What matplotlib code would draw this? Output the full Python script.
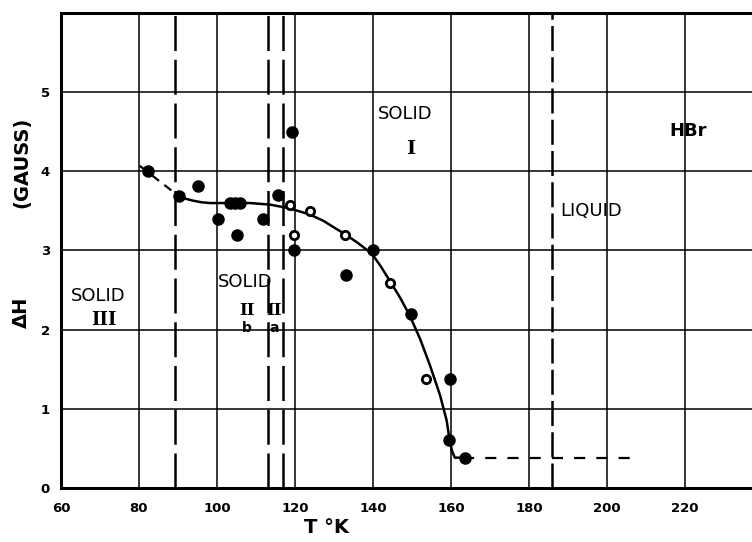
import matplotlib.pyplot as plt

# filled points (T in K, delta H in gauss)
solid_T = [82.3, 90.3, 95.1, 100.3, 103.3, 104.5, 105.8, 105.1, 111.8, 115.6,
           119.2, 119.7, 133.1, 140.0, 149.7, 159.7, 159.5, 163.6]
solid_H = [4.00, 3.69, 3.81, 3.40, 3.60, 3.60, 3.60, 3.19, 3.40, 3.70,
           4.50, 3.00, 2.69, 3.00, 2.20, 1.38, 0.60, 0.38]

# open (dotted) points
open_T = [118.7, 119.7, 123.8, 132.8, 144.4, 153.6]
open_H = [3.57, 3.20, 3.50, 3.20, 2.59, 1.38]

# smooth curve
curve_T = [89.6, 91.5, 93.9, 96.0, 98.2, 103.3, 108.5, 113.6, 117.9, 120.8,
           123.8, 127.3, 130.7, 132.4, 136.0, 139.7, 142.0, 144.4, 147.0,
           149.5, 152.1, 154.6, 157.2, 158.9, 159.6, 160.3, 161.0, 163.2]
curve_H = [3.71, 3.66, 3.63, 3.61, 3.60, 3.60, 3.60, 3.58, 3.54, 3.50,
           3.455, 3.375, 3.27, 3.22, 3.10, 2.96, 2.80, 2.61, 2.40,
           2.17, 1.88, 1.55, 1.17, 0.85, 0.62, 0.46, 0.38, 0.38]

# dashed extensions
low_T = [80.2, 89.6]
low_H = [4.07, 3.71]
high_T = [163.2, 208.0]
high_H = [0.38, 0.38]

# phase transitions
trans_T = [89.3, 113.0, 117.0]
melt_T = 186.0

x_ticks = [60, 80, 100, 120, 140, 160, 180, 200, 220]
y_ticks = [0, 1, 2, 3, 4, 5]


def do_plot():
    fig = plt.figure(figsize=(7.52, 5.42), dpi=100)
    ax = fig.add_axes([0.0811, 0.1002, 0.9189, 0.8753])
    ax.set_xlim(60, 237.2)
    ax.set_ylim(0, 6)

    for t in x_ticks[1:]:
        ax.axvline(t, color='black', lw=1.1, zorder=1)
    for h in y_ticks[1:]:
        ax.axhline(h, color='black', lw=1.1, zorder=1)

    for t in trans_T:
        ax.axvline(t, color='black', lw=1.8, dashes=(14, 3.5), zorder=2)
    ax.axvline(melt_T, color='black', lw=1.8, dashes=(10, 2.5), zorder=2)

    ax.plot(curve_T, curve_H, '-', color='black', lw=1.8, zorder=3,
            solid_joinstyle='round')
    ax.plot(low_T, low_H, color='black', lw=1.6, dashes=(4, 3), zorder=3)
    ax.plot(high_T, high_H, color='black', lw=1.6, dashes=(5, 5), zorder=3)

    ax.plot(solid_T, solid_H, 'o', color='black', markersize=8, zorder=4)
    ax.plot(open_T, open_H, 'o', mfc='white', mec='black', mew=2,
            markersize=6, zorder=4)

    ax.set_xticks(x_ticks)
    ax.set_yticks(y_ticks)
    ax.tick_params(length=0, labelsize=9.5)
    ax.tick_params(axis='x', pad=10)
    ax.tick_params(axis='y', pad=8)
    for lab in ax.get_xticklabels() + ax.get_yticklabels():
        lab.set_fontweight('bold')

    for side in ['left', 'bottom', 'top']:
        ax.spines[side].set_linewidth(2.2)
    ax.spines['right'].set_visible(False)

    ax.text(148.2, 4.72, 'SOLID', fontsize=13, ha='center', va='center')
    ax.text(149.7, 4.28, 'I', fontsize=14, ha='center', va='center',
            family='DejaVu Serif', fontweight='bold')
    ax.text(220.8, 4.51, 'HBr', fontsize=13, fontweight='bold',
            ha='center', va='center')
    ax.text(188.0, 3.50, 'LIQUID', fontsize=13, ha='left', va='center')
    ax.text(69.5, 2.43, 'SOLID', fontsize=13, ha='center', va='center')
    ax.text(71.0, 2.12, 'III', fontsize=13, ha='center', va='center',
            family='DejaVu Serif', fontweight='bold')
    ax.text(107.2, 2.60, 'SOLID', fontsize=13, ha='center', va='center')
    ax.text(107.7, 2.24, 'II', fontsize=12, ha='center', va='center',
            family='DejaVu Serif', fontweight='bold')
    ax.text(107.7, 2.02, 'b', fontsize=10, ha='center', va='center',
            fontweight='bold')
    ax.text(114.6, 2.24, 'II', fontsize=12, ha='center', va='center',
            family='DejaVu Serif', fontweight='bold')
    ax.text(114.6, 2.02, 'a', fontsize=10, ha='center', va='center',
            fontweight='bold')

    fig.text(0.434, 0.026, 'T °K', fontsize=14, fontweight='bold',
             ha='center', va='center')
    fig.text(0.029, 0.424, 'ΔH', fontsize=14, fontweight='bold',
             rotation=90, ha='center', va='center')
    fig.text(0.029, 0.701, '(GAUSS)', fontsize=14, fontweight='bold',
             rotation=90, ha='center', va='center')

    plt.savefig('out.png', dpi=100)


if __name__ == '__main__':
    do_plot()
